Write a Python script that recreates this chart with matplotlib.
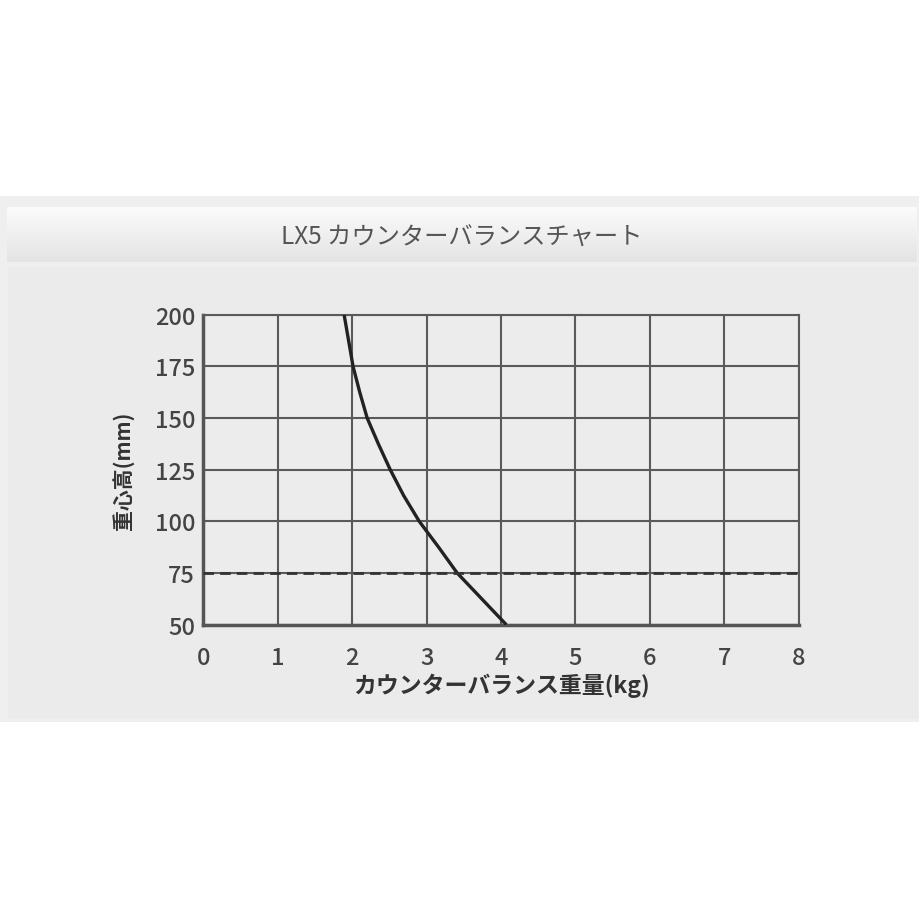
import numpy as np
import matplotlib
matplotlib.use('Agg')
import matplotlib.pyplot as plt
from matplotlib.patches import Rectangle
from matplotlib.colors import LinearSegmentedColormap

plt.rcParams['font.family'] = ['Noto Sans CJK JP', 'DejaVu Sans']

# Data
weight_kg = [1.89, 1.95, 2.01, 2.10, 2.20, 2.35, 2.51, 2.69, 2.90, 3.16, 3.41, 3.74, 4.07]
height_mm = [200, 187.5, 175, 162.5, 150, 137.5, 125, 112.5, 100, 87.5, 75, 62.5, 50]
ref_height = 75
x_ticks = [0, 1, 2, 3, 4, 5, 6, 7, 8]
y_ticks = [50, 75, 100, 125, 150, 175, 200]

title = 'LX5 カウンターバランスチャート'
xlabel = 'カウンターバランス重量(kg)'
ylabel = '重心高(mm)'

W = H = 920
fig = plt.figure(figsize=(W / 100, H / 100), dpi=100)
fig.patch.set_facecolor('white')


def fx(px):
    return px / W


def fy(py):
    return 1 - py / H


# Grey panel behind everything
fig.add_artist(Rectangle((0, fy(723)), 1, fy(197) - fy(723), transform=fig.transFigure,
                         facecolor='#efefef', edgecolor='none', zorder=-2))
fig.add_artist(Rectangle((fx(8), fy(720)), fx(910), fy(268) - fy(720), transform=fig.transFigure,
                         facecolor='#ebebeb', edgecolor='none', zorder=-1))

# Header bar with a soft vertical gradient
hdr = fig.add_axes([fx(7), fy(263), fx(910), fy(208) - fy(263)])
grad = np.linspace(1, 0, 64).reshape(-1, 1)
hdr.imshow(grad, aspect='auto', extent=[0, 1, 0, 1],
           cmap=LinearSegmentedColormap.from_list('hdr', ['#e4e4e4', '#fbfbfb']))
hdr.set_axis_off()
hdr.text(0.5, 0.45, title, ha='center', va='center', fontsize=17.5, color='#555555')

# Chart
ax = fig.add_axes([fx(203.5), fy(625.7), fx(798.7 - 203.5), fy(315.7) - fy(625.7)])
ax.set_facecolor('#ececec')
ax.set_xlim(0, 8)
ax.set_ylim(50, 200)
ax.set_xticks(x_ticks)
ax.set_yticks(y_ticks)
ax.grid(True, color='#5a5a5a', linewidth=1.5)
ax.set_axisbelow(True)

ax.plot(weight_kg, height_mm, color='#222222', linewidth=2.4,
        solid_capstyle='butt', solid_joinstyle='round', zorder=3)
ax.axhline(ref_height, color='#333333', linewidth=2, linestyle=(0, (3.8, 2.2)), zorder=3)

for side in ['top', 'right']:
    ax.spines[side].set_color('#5a5a5a')
    ax.spines[side].set_linewidth(1.5)
for side in ['left', 'bottom']:
    ax.spines[side].set_color('#555555')
    ax.spines[side].set_linewidth(2.5)

ax.tick_params(axis='both', length=0, labelsize=17, labelcolor='#444444')
ax.tick_params(axis='y', pad=6)
ax.tick_params(axis='x', pad=15)
for lab in ax.get_xticklabels() + ax.get_yticklabels():
    lab.set_fontweight('medium')

ax.set_xlabel(xlabel, fontsize=16.5, fontweight='bold', color='#333333', labelpad=3)
ax.set_ylabel(ylabel, fontsize=15, fontweight='bold', color='#333333', labelpad=15)

fig.savefig('out.png', dpi=100, facecolor='white')
